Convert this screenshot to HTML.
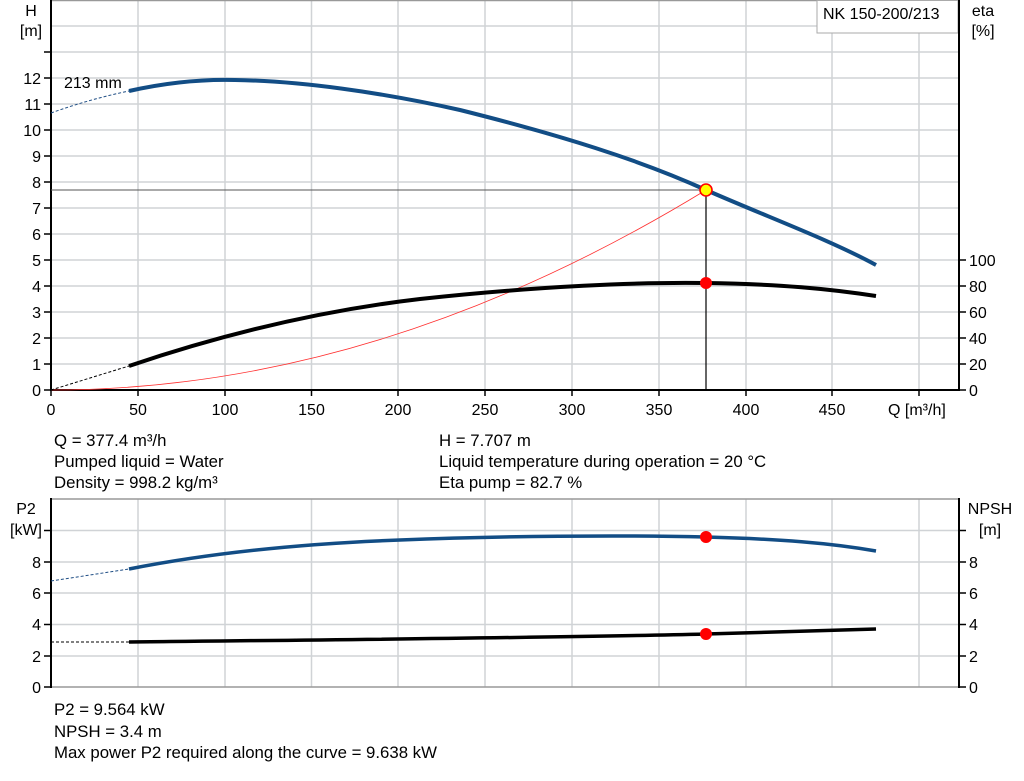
<!DOCTYPE html>
<html><head><meta charset="utf-8"><style>
html,body{margin:0;padding:0;background:#fff;width:1024px;height:781px;overflow:hidden}
svg{display:block}
text{font-family:"Liberation Sans",Arial,sans-serif;font-size:16px;fill:#000}
.info{font-size:16.8px}
</style></head><body>
<svg width="1024" height="781" viewBox="0 0 1024 781" xmlns="http://www.w3.org/2000/svg">
<g stroke="#d0d3d6" stroke-width="1.5">
<line x1="138" y1="0" x2="138" y2="390"/><line x1="225" y1="0" x2="225" y2="390"/><line x1="311.5" y1="0" x2="311.5" y2="390"/>
<line x1="398" y1="0" x2="398" y2="390"/><line x1="485" y1="0" x2="485" y2="390"/><line x1="572" y1="0" x2="572" y2="390"/>
<line x1="659" y1="0" x2="659" y2="390"/><line x1="746" y1="0" x2="746" y2="390"/><line x1="832" y1="0" x2="832" y2="390"/>
<line x1="919" y1="33" x2="919" y2="390"/>
<line x1="51" y1="364" x2="959" y2="364"/><line x1="51" y1="338" x2="959" y2="338"/><line x1="51" y1="312" x2="959" y2="312"/>
<line x1="51" y1="286" x2="959" y2="286"/><line x1="51" y1="260" x2="959" y2="260"/><line x1="51" y1="234" x2="959" y2="234"/>
<line x1="51" y1="208" x2="959" y2="208"/><line x1="51" y1="182" x2="959" y2="182"/><line x1="51" y1="156" x2="959" y2="156"/>
<line x1="51" y1="130" x2="959" y2="130"/><line x1="51" y1="104" x2="959" y2="104"/><line x1="51" y1="78" x2="959" y2="78"/>
<line x1="51" y1="52" x2="959" y2="52"/><line x1="51" y1="26" x2="817" y2="26"/>
</g>
<line x1="51" y1="0.5" x2="959" y2="0.5" stroke="#999" stroke-width="1.5"/>
<rect x="817" y="0.5" width="141" height="32.5" fill="#fff" stroke="#aaa" stroke-width="1"/>
<text x="823" y="19">NK 150-200/213</text>
<g stroke="#000" stroke-width="2">
<line x1="51" y1="0" x2="51" y2="391"/><line x1="50" y1="390" x2="960" y2="390"/><line x1="959" y1="0" x2="959" y2="391"/>
</g>
<g stroke="#000" stroke-width="1.5">
<line x1="44" y1="390" x2="51" y2="390"/><line x1="44" y1="364" x2="51" y2="364"/><line x1="44" y1="338" x2="51" y2="338"/><line x1="44" y1="312" x2="51" y2="312"/>
<line x1="44" y1="286" x2="51" y2="286"/><line x1="44" y1="260" x2="51" y2="260"/><line x1="44" y1="234" x2="51" y2="234"/><line x1="44" y1="208" x2="51" y2="208"/>
<line x1="44" y1="182" x2="51" y2="182"/><line x1="44" y1="156" x2="51" y2="156"/><line x1="44" y1="130" x2="51" y2="130"/><line x1="44" y1="104" x2="51" y2="104"/>
<line x1="44" y1="78" x2="51" y2="78"/><line x1="44" y1="52" x2="51" y2="52"/>
<line x1="959" y1="390" x2="966" y2="390"/><line x1="959" y1="364" x2="966" y2="364"/><line x1="959" y1="338" x2="966" y2="338"/>
<line x1="959" y1="312" x2="966" y2="312"/><line x1="959" y1="286" x2="966" y2="286"/><line x1="959" y1="260" x2="966" y2="260"/>
<line x1="51" y1="390" x2="51" y2="396"/><line x1="138" y1="390" x2="138" y2="396"/><line x1="225" y1="390" x2="225" y2="396"/><line x1="311.5" y1="390" x2="311.5" y2="396"/>
<line x1="398" y1="390" x2="398" y2="396"/><line x1="485" y1="390" x2="485" y2="396"/><line x1="572" y1="390" x2="572" y2="396"/><line x1="659" y1="390" x2="659" y2="396"/>
<line x1="746" y1="390" x2="746" y2="396"/><line x1="832" y1="390" x2="832" y2="396"/><line x1="919" y1="390" x2="919" y2="396"/>
</g>
<g text-anchor="end">
<text x="41" y="396">0</text><text x="41" y="370">1</text><text x="41" y="344">2</text><text x="41" y="318">3</text><text x="41" y="292">4</text>
<text x="41" y="266">5</text><text x="41" y="240">6</text><text x="41" y="214">7</text><text x="41" y="188">8</text><text x="41" y="162">9</text>
<text x="41" y="136">10</text><text x="41" y="110">11</text><text x="41" y="84">12</text>
</g>
<g>
<text x="969" y="396">0</text><text x="969" y="370">20</text><text x="969" y="344">40</text><text x="969" y="318">60</text><text x="969" y="292">80</text><text x="969" y="266">100</text>
</g>
<g text-anchor="middle">
<text x="51" y="415">0</text><text x="138" y="415">50</text><text x="225" y="415">100</text><text x="311.5" y="415">150</text><text x="398" y="415">200</text>
<text x="485" y="415">250</text><text x="572" y="415">300</text><text x="659" y="415">350</text><text x="746" y="415">400</text><text x="832" y="415">450</text>
<text x="31" y="16">H</text><text x="31" y="36">[m]</text><text x="983" y="16">eta</text><text x="983" y="36">[%]</text>
</g>
<text x="888" y="415">Q [m³/h]</text>
<text x="64" y="88">213 mm</text>
<line x1="51" y1="190" x2="706" y2="190" stroke="#555" stroke-width="1"/>
<line x1="706" y1="190" x2="706" y2="390" stroke="#000" stroke-width="1.2"/>
<path d="M51,390 Q378.5,390 706,190" fill="none" stroke="#ff3030" stroke-width="0.8"/>
<path d="M51,113 Q90,99 129,91" fill="none" stroke="#1f4e85" stroke-width="1" stroke-dasharray="3,2"/>
<path d="M129,91 C160,84 195,79 235,80 C300,81 380,92 460,110 C560,135 640,160 706,190 C770,218 830,240 876,265" fill="none" stroke="#124d85" stroke-width="4"/>
<path d="M51,390 L129,366" fill="none" stroke="#000" stroke-width="1" stroke-dasharray="3,2"/>
<path d="M129,366 C200,342 300,313 420,299 C540,286 640,282 706,283 C780,284 830,289 876,296" fill="none" stroke="#000" stroke-width="4"/>
<circle cx="706" cy="283" r="6" fill="#ff0000"/>
<circle cx="706" cy="190" r="6" fill="#ffff00" stroke="#ff0000" stroke-width="1.6"/>
<text class="info" x="54" y="446">Q = 377.4 m³/h</text>
<text class="info" x="54" y="467">Pumped liquid = Water</text>
<text class="info" x="54" y="488">Density = 998.2 kg/m³</text>
<text class="info" x="439" y="446">H = 7.707 m</text>
<text class="info" x="439" y="467">Liquid temperature during operation = 20 °C</text>
<text class="info" x="439" y="488">Eta pump = 82.7 %</text>
<g stroke="#d0d3d6" stroke-width="1.5">
<line x1="138" y1="499" x2="138" y2="687"/><line x1="225" y1="499" x2="225" y2="687"/><line x1="311.5" y1="499" x2="311.5" y2="687"/>
<line x1="398" y1="499" x2="398" y2="687"/><line x1="485" y1="499" x2="485" y2="687"/><line x1="572" y1="499" x2="572" y2="687"/>
<line x1="659" y1="499" x2="659" y2="687"/><line x1="746" y1="499" x2="746" y2="687"/><line x1="832" y1="499" x2="832" y2="687"/>
<line x1="919" y1="499" x2="919" y2="687"/>
<line x1="51" y1="656" x2="959" y2="656"/><line x1="51" y1="624.5" x2="959" y2="624.5"/><line x1="51" y1="593" x2="959" y2="593"/>
<line x1="51" y1="562" x2="959" y2="562"/><line x1="51" y1="530.5" x2="959" y2="530.5"/>
</g>
<line x1="51" y1="499" x2="959" y2="499" stroke="#999" stroke-width="1.5"/>
<line x1="51" y1="687" x2="959" y2="687" stroke="#999" stroke-width="1.5"/>
<g stroke="#000" stroke-width="2">
<line x1="51" y1="498" x2="51" y2="688"/><line x1="959" y1="498" x2="959" y2="688"/>
</g>
<g stroke="#000" stroke-width="1.5">
<line x1="44" y1="687" x2="51" y2="687"/><line x1="44" y1="656" x2="51" y2="656"/><line x1="44" y1="624.5" x2="51" y2="624.5"/>
<line x1="44" y1="593" x2="51" y2="593"/><line x1="44" y1="562" x2="51" y2="562"/><line x1="44" y1="530.5" x2="51" y2="530.5"/>
<line x1="959" y1="687" x2="966" y2="687"/><line x1="959" y1="656" x2="966" y2="656"/><line x1="959" y1="624.5" x2="966" y2="624.5"/>
<line x1="959" y1="593" x2="966" y2="593"/><line x1="959" y1="562" x2="966" y2="562"/><line x1="959" y1="530.5" x2="966" y2="530.5"/>
</g>
<g text-anchor="end">
<text x="41" y="693">0</text><text x="41" y="662">2</text><text x="41" y="630">4</text><text x="41" y="599">6</text><text x="41" y="568">8</text>
</g>
<g>
<text x="969" y="693">0</text><text x="969" y="662">2</text><text x="969" y="630">4</text><text x="969" y="599">6</text><text x="969" y="568">8</text>
</g>
<g text-anchor="middle">
<text x="26" y="514">P2</text><text x="26" y="535">[kW]</text>
<text x="990" y="514">NPSH</text><text x="990" y="535">[m]</text>
</g>
<path d="M51,581 L129,569" fill="none" stroke="#1f4e85" stroke-width="1" stroke-dasharray="3,2"/>
<path d="M129,569 C200,555 290,544 400,540 C500,536 620,535 706,537 C780,539 830,543 876,551" fill="none" stroke="#124d85" stroke-width="3.5"/>
<path d="M51,642 L129,642" fill="none" stroke="#000" stroke-width="1" stroke-dasharray="3,2"/>
<path d="M129,642 C300,640 550,638 706,634 C780,632 830,630 876,629" fill="none" stroke="#000" stroke-width="3.5"/>
<circle cx="706" cy="537" r="6" fill="#ff0000"/>
<circle cx="706" cy="634" r="6" fill="#ff0000"/>
<text class="info" x="54" y="715">P2 = 9.564 kW</text>
<text class="info" x="54" y="737">NPSH = 3.4 m</text>
<text class="info" x="54" y="758">Max power P2 required along the curve = 9.638 kW</text>
</svg>
</body></html>
